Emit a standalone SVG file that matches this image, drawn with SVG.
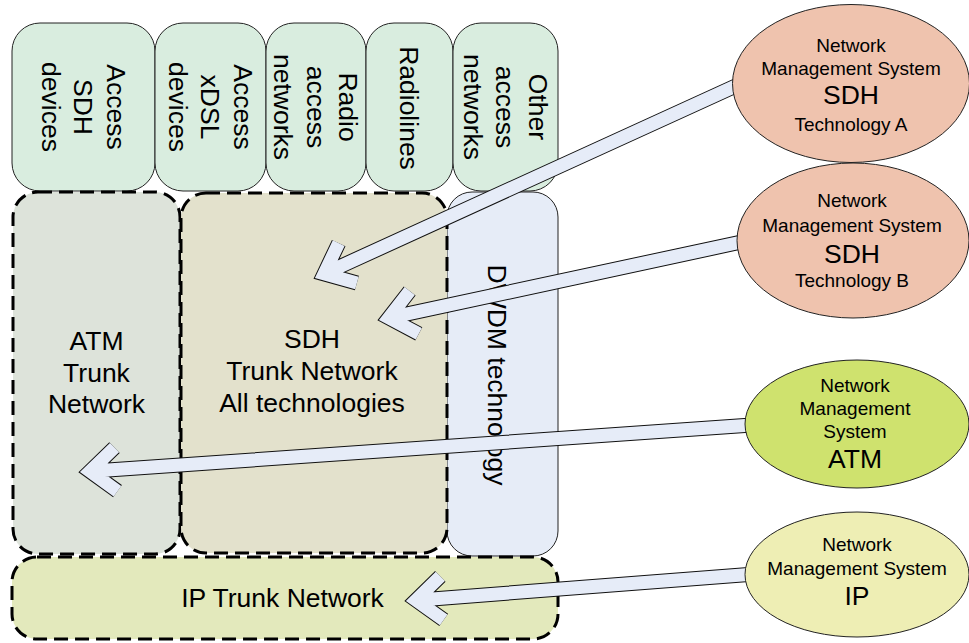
<svg xmlns="http://www.w3.org/2000/svg" width="969" height="643" viewBox="0 0 969 643">
<style>
text{font-family:"Liberation Sans",Arial,sans-serif;fill:#000;text-anchor:middle}
.big{font-size:26.5px}
.sm{font-size:19px}
.acc{fill:#d9eddf;stroke:#222;stroke-width:1}
.dash{stroke:#000;stroke-width:3;stroke-dasharray:14 7}
.ol{fill:none;stroke:#111;stroke-width:15;stroke-linejoin:miter;stroke-miterlimit:6}
.in{fill:none;stroke:#e6ecf8;stroke-width:13;stroke-linejoin:miter;stroke-miterlimit:6}
.ell{stroke:#222;stroke-width:1}
</style>
<rect width="969" height="643" fill="#fff"/>
<g id="access-sdh"><rect class="acc" x="12" y="23" width="143" height="168" rx="28"/>
<text class="big" transform="translate(83.5,107) rotate(90)"><tspan x="0" y="-23">Access</tspan><tspan x="0" y="9.5">SDH</tspan><tspan x="0" y="42">devices</tspan></text></g>
<g id="access-xdsl"><rect class="acc" x="155" y="23" width="111" height="168" rx="28"/>
<text class="big" transform="translate(210.5,107) rotate(90)"><tspan x="0" y="-23">Access</tspan><tspan x="0" y="9.5">xDSL</tspan><tspan x="0" y="42">devices</tspan></text></g>
<g id="radio-access"><rect class="acc" x="266" y="23" width="100" height="168" rx="28"/>
<text class="big" transform="translate(316,107) rotate(90)"><tspan x="0" y="-23">Radio</tspan><tspan x="0" y="9.5">access</tspan><tspan x="0" y="42">networks</tspan></text></g>
<g id="radiolines"><rect class="acc" x="366" y="23" width="87" height="168" rx="28"/>
<text class="big" transform="translate(409.5,108) rotate(90)"><tspan x="0" y="9.5">Radiolines</tspan></text></g>
<g id="other-access"><rect class="acc" x="453" y="23" width="105" height="168" rx="28"/>
<text class="big" transform="translate(505.5,107) rotate(90)"><tspan x="0" y="-23">Other</tspan><tspan x="0" y="9.5">access</tspan><tspan x="0" y="42">networks</tspan></text></g>
<g id="dwdm"><rect x="447" y="192" width="111" height="364" rx="25" fill="#e6ecf7" stroke="#222" stroke-width="1"/>
<text class="big" transform="translate(497.5,375) rotate(90)" x="0" y="9.5">DWDM technology</text></g>
<g id="atm-trunk"><rect class="dash" x="13" y="192" width="167" height="362" rx="25" fill="#dde3da"/>
<text class="big" x="96.5" y="350">ATM</text><text class="big" x="96.5" y="381.5">Trunk</text><text class="big" x="96.5" y="413">Network</text></g>
<g id="sdh-trunk"><rect class="dash" x="181" y="193" width="266" height="360" rx="25" fill="#e3e1cc"/>
<text class="big" x="312" y="348">SDH</text><text class="big" x="312" y="380">Trunk Network</text><text class="big" x="312" y="412">All technologies</text></g>
<g id="ip-trunk"><rect class="dash" x="12" y="557" width="546" height="82" rx="25" fill="#e3e9bc"/>
<text class="big" x="282.5" y="607">IP Trunk Network</text></g>
<g id="connectors">
<path class="ol" d="M740 84L324.1 273.8M356.9 282.9L324.1 273.8L338.7 243.1"/>
<path class="in" d="M740 84L324.1 273.8M356.9 282.9L324.1 273.8L338.7 243.1"/>
<path class="ol" d="M746 241L388.8 317.9M418.8 333.8L388.8 317.9L409.7 291"/>
<path class="in" d="M746 241L388.8 317.9M418.8 333.8L388.8 317.9L409.7 291"/>
<path class="ol" d="M752 425L90 471.3M117.5 491.2L90 471.3L114.5 447.6"/>
<path class="in" d="M752 425L90 471.3M117.5 491.2L90 471.3L114.5 447.6"/>
<path class="ol" d="M755 574L416 600.2M443.7 619.9L416 600.2L440.3 576.4"/>
<path class="in" d="M755 574L416 600.2M443.7 619.9L416 600.2L440.3 576.4"/>
</g>
<g id="nms-sdh-a"><ellipse class="ell" cx="851" cy="83.5" rx="118.5" ry="79" fill="#efc3ae"/>
<text class="sm" x="851" y="51.5">Network</text><text class="sm" x="851" y="74.5">Management System</text><text class="big" x="851" y="104">SDH</text><text class="sm" x="851" y="131">Technology A</text></g>
<g id="nms-sdh-b"><ellipse class="ell" cx="853" cy="240.5" rx="116" ry="77.5" fill="#efc3ae"/>
<text class="sm" x="852" y="207">Network</text><text class="sm" x="852" y="231.5">Management System</text><text class="big" x="852" y="262.5">SDH</text><text class="sm" x="852" y="287">Technology B</text></g>
<g id="nms-atm"><ellipse class="ell" cx="857" cy="424" rx="112" ry="64" fill="#cfe26e"/>
<text class="sm" x="855" y="391.5">Network</text><text class="sm" x="855" y="414.5">Management</text><text class="sm" x="855" y="437.5">System</text><text class="big" x="855" y="468">ATM</text></g>
<g id="nms-ip"><ellipse class="ell" cx="857" cy="574.5" rx="112" ry="62.5" fill="#eeeeb4"/>
<text class="sm" x="857" y="551">Network</text><text class="sm" x="857" y="574.5">Management System</text><text class="big" x="857" y="605">IP</text></g>
</svg>
